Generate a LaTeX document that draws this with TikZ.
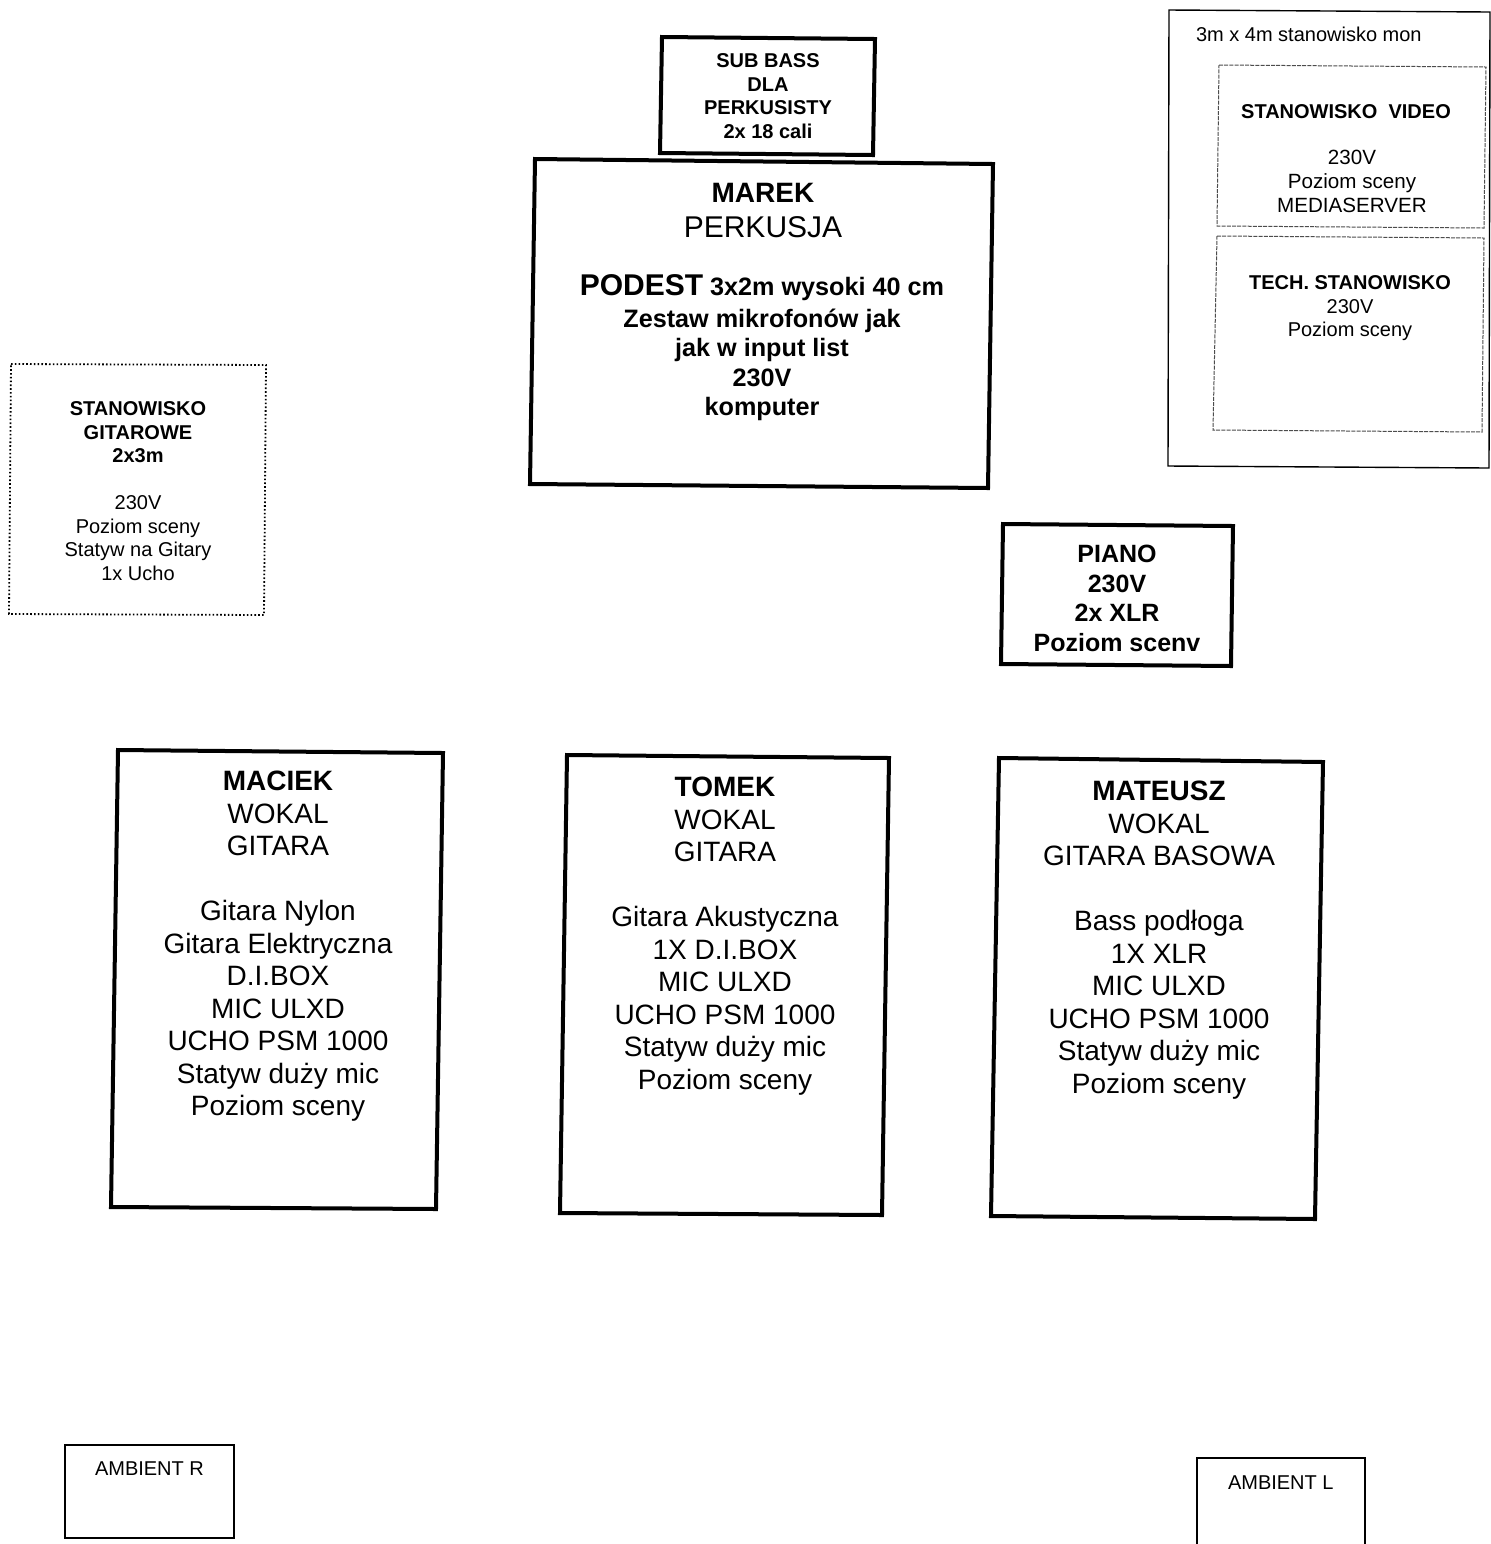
\documentclass[tikz,border=0pt]{standalone}
\usepackage{fontspec}
\setmainfont{Liberation Sans}
\begin{document}
\begin{tikzpicture}[x=0.5pt,y=-0.5pt,
  thickbox/.style={draw=black,line width=2pt,line join=miter},
  thinbox/.style={draw=black,line width=0.7pt},
  dotbox/.style={draw=black,line width=0.9pt,dash pattern=on 0.8pt off 1.1pt},
  dashbox/.style={draw=black!70,line width=0.5pt,dash pattern=on 2pt off 0.6pt},
  txt/.style={inner sep=0pt,outer sep=0pt,align=center},
  big/.style={txt,font=\fontsize{14}{16.25}\selectfont},
  small/.style={txt,font=\fontsize{10}{11.75}\selectfont}]
\useasboundingbox (0,0) rectangle (1491,1544);
\fill[white] (0,0) rectangle (1491,1544);

% SUB BASS
\draw[thickbox] (662,37) -- (875,39) -- (873,155) -- (660,153) -- cycle;
\node[txt,anchor=north,font=\bfseries\fontsize{10}{11.75}\selectfont] (subbass) at (768,54)
  {SUB BASS\\DLA\\PERKUSISTY\\2x 18 cali};

% MAREK
\draw[thickbox] (535,159) -- (993,164) -- (988,488) -- (530,484) -- cycle;
\node[txt,anchor=base,font=\bfseries\fontsize{14}{16}\selectfont] (marek) at (763,202) {MAREK};
\node[txt,anchor=base,font=\fontsize{15}{17}\selectfont] (perkusja) at (763,237) {PERKUSJA};
\node[txt,anchor=base,font=\bfseries\fontsize{12.6}{14.75}\selectfont] (podest) at (762,295)
  {{\fontsize{15}{17}\selectfont PODEST} 3x2m wysoki 40 cm};
\node[txt,anchor=north,font=\bfseries\fontsize{12.6}{14.75}\selectfont] (zestaw) at (762,309)
  {Zestaw mikrofonów jak\\jak w input list\\230V\\komputer};

% monitor station
\draw[thinbox] (1169,10) -- (1490,12) -- (1489,468) -- (1168,466) -- cycle;
\node[txt,anchor=base west,font=\fontsize{10}{12}\selectfont] (mon) at (1196,41) {3m x 4m stanowisko mon};
\draw[dashbox] (1219,65) -- (1486,67) -- (1484,228) -- (1217,226) -- cycle;
\node[txt,anchor=north,font=\bfseries\fontsize{10}{12}\selectfont] (video) at (1346,105) {STANOWISKO\ \ VIDEO};
\node[txt,anchor=north,font=\fontsize{10.3}{12}\selectfont] (videoinfo) at (1352,150)
  {230V\\Poziom sceny\\MEDIASERVER};
\draw[dashbox] (1217,236) -- (1484,238) -- (1482,432) -- (1213,430) -- cycle;
\node[txt,anchor=north,font=\fontsize{10}{11.75}\selectfont] (tech) at (1350,276)
  {\textbf{TECH. STANOWISKO}\\230V\\Poziom sceny};

% guitar station
\draw[dotbox] (11,364) -- (266,365) -- (264,615) -- (9,614) -- cycle;
\node[small,anchor=north] (gitarowe) at (138,402)
  {\textbf{STANOWISKO}\\\textbf{GITAROWE}\\\textbf{2x3m}\\[11.75pt]230V\\Poziom sceny\\Statyw na Gitary\\1x Ucho};

% PIANO
\draw[thickbox] (1003,524) -- (1233,526) -- (1231,666) -- (1001,664) -- cycle;
\node[txt,anchor=north,font=\bfseries\fontsize{12.5}{14.85}\selectfont] (piano) at (1117,545)
  {PIANO\\230V\\2x XLR\\Poziom scenv};

% MACIEK
\draw[thickbox] (118,750) -- (443,753) -- (436,1209) -- (111,1207) -- cycle;
\node[big,anchor=north] (maciek) at (278,771)
  {\textbf{MACIEK}\\WOKAL\\GITARA\\[16.25pt]Gitara Nylon\\Gitara Elektryczna\\D.I.BOX\\MIC ULXD\\UCHO PSM 1000\\Statyw duży mic\\Poziom sceny};

% TOMEK
\draw[thickbox] (567,755) -- (889,758) -- (882,1215) -- (560,1213) -- cycle;
\node[big,anchor=north] (tomek) at (725,777)
  {\textbf{TOMEK}\\WOKAL\\GITARA\\[16.25pt]Gitara Akustyczna\\1X D.I.BOX\\MIC ULXD\\UCHO PSM 1000\\Statyw duży mic\\Poziom sceny};

% MATEUSZ
\draw[thickbox] (999,758) -- (1323,762) -- (1315,1219) -- (991,1216) -- cycle;
\node[big,anchor=north] (mateusz) at (1159,781)
  {\textbf{MATEUSZ}\\WOKAL\\GITARA BASOWA\\[16.25pt]Bass podłoga\\1X XLR\\MIC ULXD\\UCHO PSM 1000\\Statyw duży mic\\Poziom sceny};

% ambients
\draw[thinbox] (65,1445) rectangle (234,1538);
\node[txt,anchor=base west,font=\fontsize{10}{12}\selectfont] (ambr) at (95,1475) {AMBIENT R};
\draw[thinbox] (1197,1544) -- (1197,1458) -- (1365,1458) -- (1365,1544);
\node[txt,anchor=base west,font=\fontsize{10}{12}\selectfont] (ambl) at (1228,1489) {AMBIENT L};
\end{tikzpicture}
\end{document}
